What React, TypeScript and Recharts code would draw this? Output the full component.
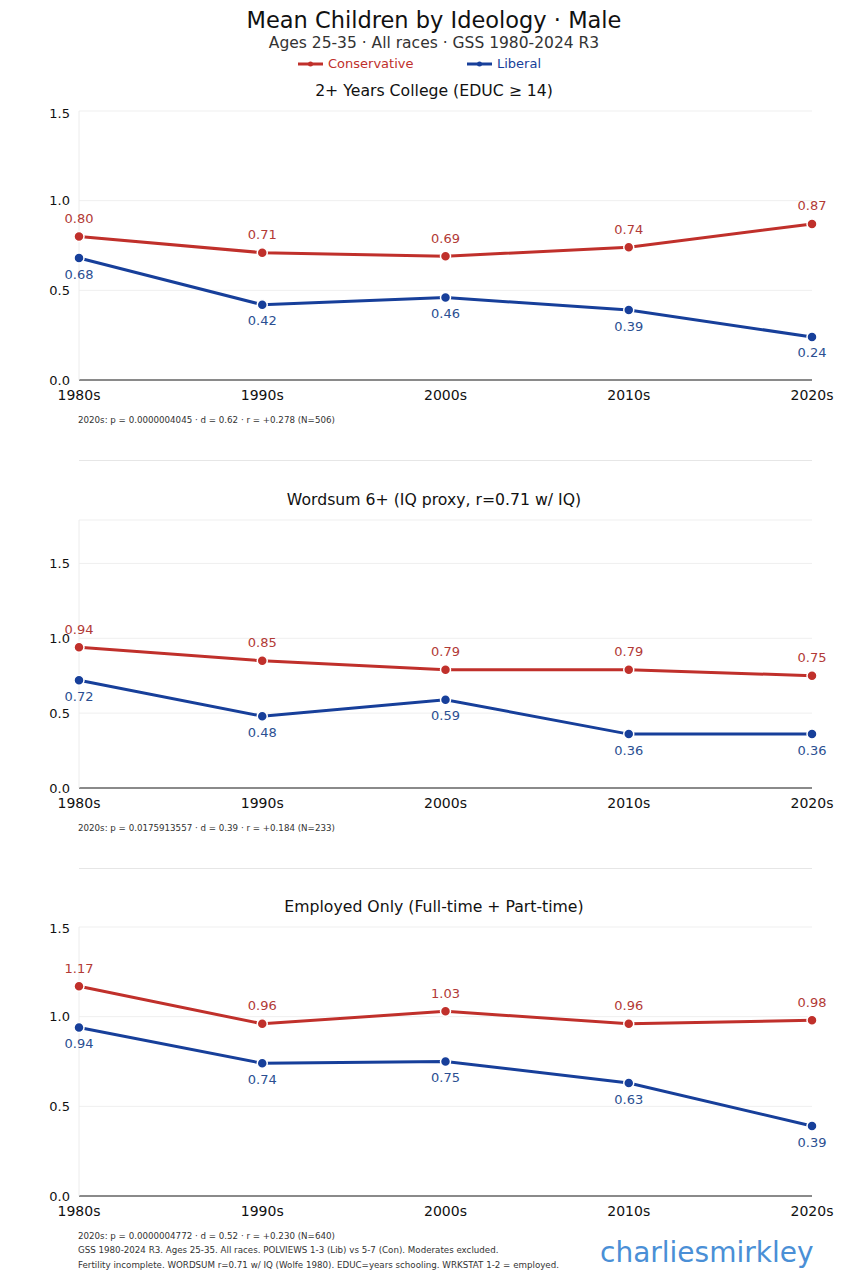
import React from "react";
import { CartesianGrid, LabelList, Line, LineChart, XAxis, YAxis } from "recharts";

const decades = ["1980s", "1990s", "2000s", "2010s", "2020s"];

const collegeCon = [0.8, 0.71, 0.69, 0.74, 0.87];
const collegeLib = [0.68, 0.42, 0.46, 0.39, 0.24];
const wordsumCon = [0.94, 0.85, 0.79, 0.79, 0.75];
const wordsumLib = [0.72, 0.48, 0.59, 0.36, 0.36];
const employedCon = [1.17, 0.96, 1.03, 0.96, 0.98];
const employedLib = [0.94, 0.74, 0.75, 0.63, 0.39];

const yTicks = [0, 0.5, 1.0, 1.5];

const RED = "#c0302b";
const RED_TEXT = "#b23a36";
const BLUE = "#173f9a";
const BLUE_TEXT = "#2b4f92";
const FONT = "'DejaVu Sans', sans-serif";

const build = (con: number[], lib: number[]) =>
    decades.map((d, i) => ({ decade: d, con: con[i], lib: lib[i] }));

const makeLabel = (color: string, dy: number) => (props: any) => {
    const { x, y, value } = props;
    return (
        <text x={x} y={y + dy} fill={color} fontSize={13} fontFamily={FONT} textAnchor="middle" dominantBaseline="central">
            {Number(value).toFixed(2)}
        </text>
    );
};

interface PanelProps {
    top: number;
    title: string;
    con: number[];
    lib: number[];
    yMax: number;
    marginTop: number;
    height: number;
}

const Panel = ({ top, title, con, lib, yMax, marginTop, height }: PanelProps) => {
    const data = build(con, lib);
    const plotTop = top + marginTop;
    return (
        <>
            <div style={{ position: "absolute", top: plotTop - 29.5, left: 0, width: 868, textAlign: "center", fontSize: 15.7, color: "#111" }}>
                {title}
            </div>
            <div style={{ position: "absolute", top, left: 0 }}>
                <LineChart width={868} height={height} data={data} margin={{ top: marginTop, right: 56, bottom: 0, left: 39 }}>
                    <CartesianGrid horizontal vertical={false} stroke="#efefef" />
                    <XAxis
                        dataKey="decade"
                        tickLine={false}
                        axisLine={{ stroke: "#666", strokeWidth: 1.3 }}
                        tick={{ fill: "#111", fontSize: 14, fontFamily: FONT }}
                        tickSize={0}
                        tickMargin={10}
                        height={30}
                        interval={0}
                    />
                    <YAxis
                        width={40}
                        domain={[0, yMax]}
                        ticks={yTicks}
                        allowDataOverflow
                        tickFormatter={(v: number) => v.toFixed(1)}
                        tickLine={false}
                        axisLine={{ stroke: "#ececec" }}
                        tick={{ fill: "#111", fontSize: 13, fontFamily: FONT }}
                        tickSize={0}
                        tickMargin={9}
                    />
                    <Line
                        dataKey="con"
                        type="linear"
                        stroke={RED}
                        strokeWidth={3}
                        dot={{ r: 5, fill: RED, stroke: "#fff", strokeWidth: 1.5 }}
                        activeDot={false}
                        isAnimationActive={false}
                    >
                        <LabelList dataKey="con" content={makeLabel(RED_TEXT, -18)} />
                    </Line>
                    <Line
                        dataKey="lib"
                        type="linear"
                        stroke={BLUE}
                        strokeWidth={3}
                        dot={{ r: 5, fill: BLUE, stroke: "#fff", strokeWidth: 1.5 }}
                        activeDot={false}
                        isAnimationActive={false}
                    >
                        <LabelList dataKey="lib" content={makeLabel(BLUE_TEXT, 16)} />
                    </Line>
                </LineChart>
            </div>
        </>
    );
};

const note = (top: number, text: string) => (
    <div style={{ position: "absolute", top, left: 78, fontSize: 8.7, color: "#333", whiteSpace: "nowrap" }}>{text}</div>
);

const divider = (top: number) => (
    <div style={{ position: "absolute", top, left: 79, width: 733, height: 1, background: "#e6e6e6" }} />
);

const LegendItem = ({ left, color, label }: { left: number; color: string; label: string }) => (
    <div style={{ position: "absolute", top: 56, left, display: "flex", alignItems: "center", fontSize: 13, color, whiteSpace: "nowrap" }}>
        <svg width={25} height={8} style={{ marginRight: 5 }}>
            <line x1={0} y1={4} x2={25} y2={4} stroke={color} strokeWidth={3} />
            <circle cx={12.5} cy={4} r={2.5} fill={color} />
        </svg>
        {label}
    </div>
);

export default function App() {
    return (
        <div style={{ position: "absolute", left: 0, top: 0, width: 868, height: 1280, background: "#fff", fontFamily: FONT, lineHeight: 1.2 }}>
            <div style={{ position: "absolute", top: 6.5, left: 0, width: 868, textAlign: "center", fontSize: 22.5, color: "#111" }}>
                Mean Children by Ideology · Male
            </div>
            <div style={{ position: "absolute", top: 33.7, left: 0, width: 868, textAlign: "center", fontSize: 15.5, color: "#333" }}>
                Ages 25-35 · All races · GSS 1980-2024 R3
            </div>
            <LegendItem left={298} color={RED} label="Conservative" />
            <LegendItem left={467} color={BLUE} label="Liberal" />

            <Panel top={105} title="2+ Years College (EDUC ≥ 14)" con={collegeCon} lib={collegeLib} yMax={1.5} marginTop={6} height={305} />
            {note(415, "2020s: p = 0.0000004045 · d = 0.62 · r = +0.278 (N=506)")}
            {divider(460)}

            <Panel top={512} title="Wordsum 6+ (IQ proxy, r=0.71 w/ IQ)" con={wordsumCon} lib={wordsumLib} yMax={1.79} marginTop={8} height={306} />
            {note(823, "2020s: p = 0.0175913557 · d = 0.39 · r = +0.184 (N=233)")}
            {divider(868)}

            <Panel top={920} title="Employed Only (Full-time + Part-time)" con={employedCon} lib={employedLib} yMax={1.5} marginTop={7} height={306} />
            {note(1231, "2020s: p = 0.0000004772 · d = 0.52 · r = +0.230 (N=640)")}
            {note(1245, "GSS 1980-2024 R3. Ages 25-35. All races. POLVIEWS 1-3 (Lib) vs 5-7 (Con). Moderates excluded.")}
            {note(1260, "Fertility incomplete. WORDSUM r=0.71 w/ IQ (Wolfe 1980). EDUC=years schooling. WRKSTAT 1-2 = employed.")}
            <div style={{ position: "absolute", top: 1236, left: 600, fontSize: 28, color: "#4a8fd6" }}>charliesmirkley</div>
        </div>
    );
}
